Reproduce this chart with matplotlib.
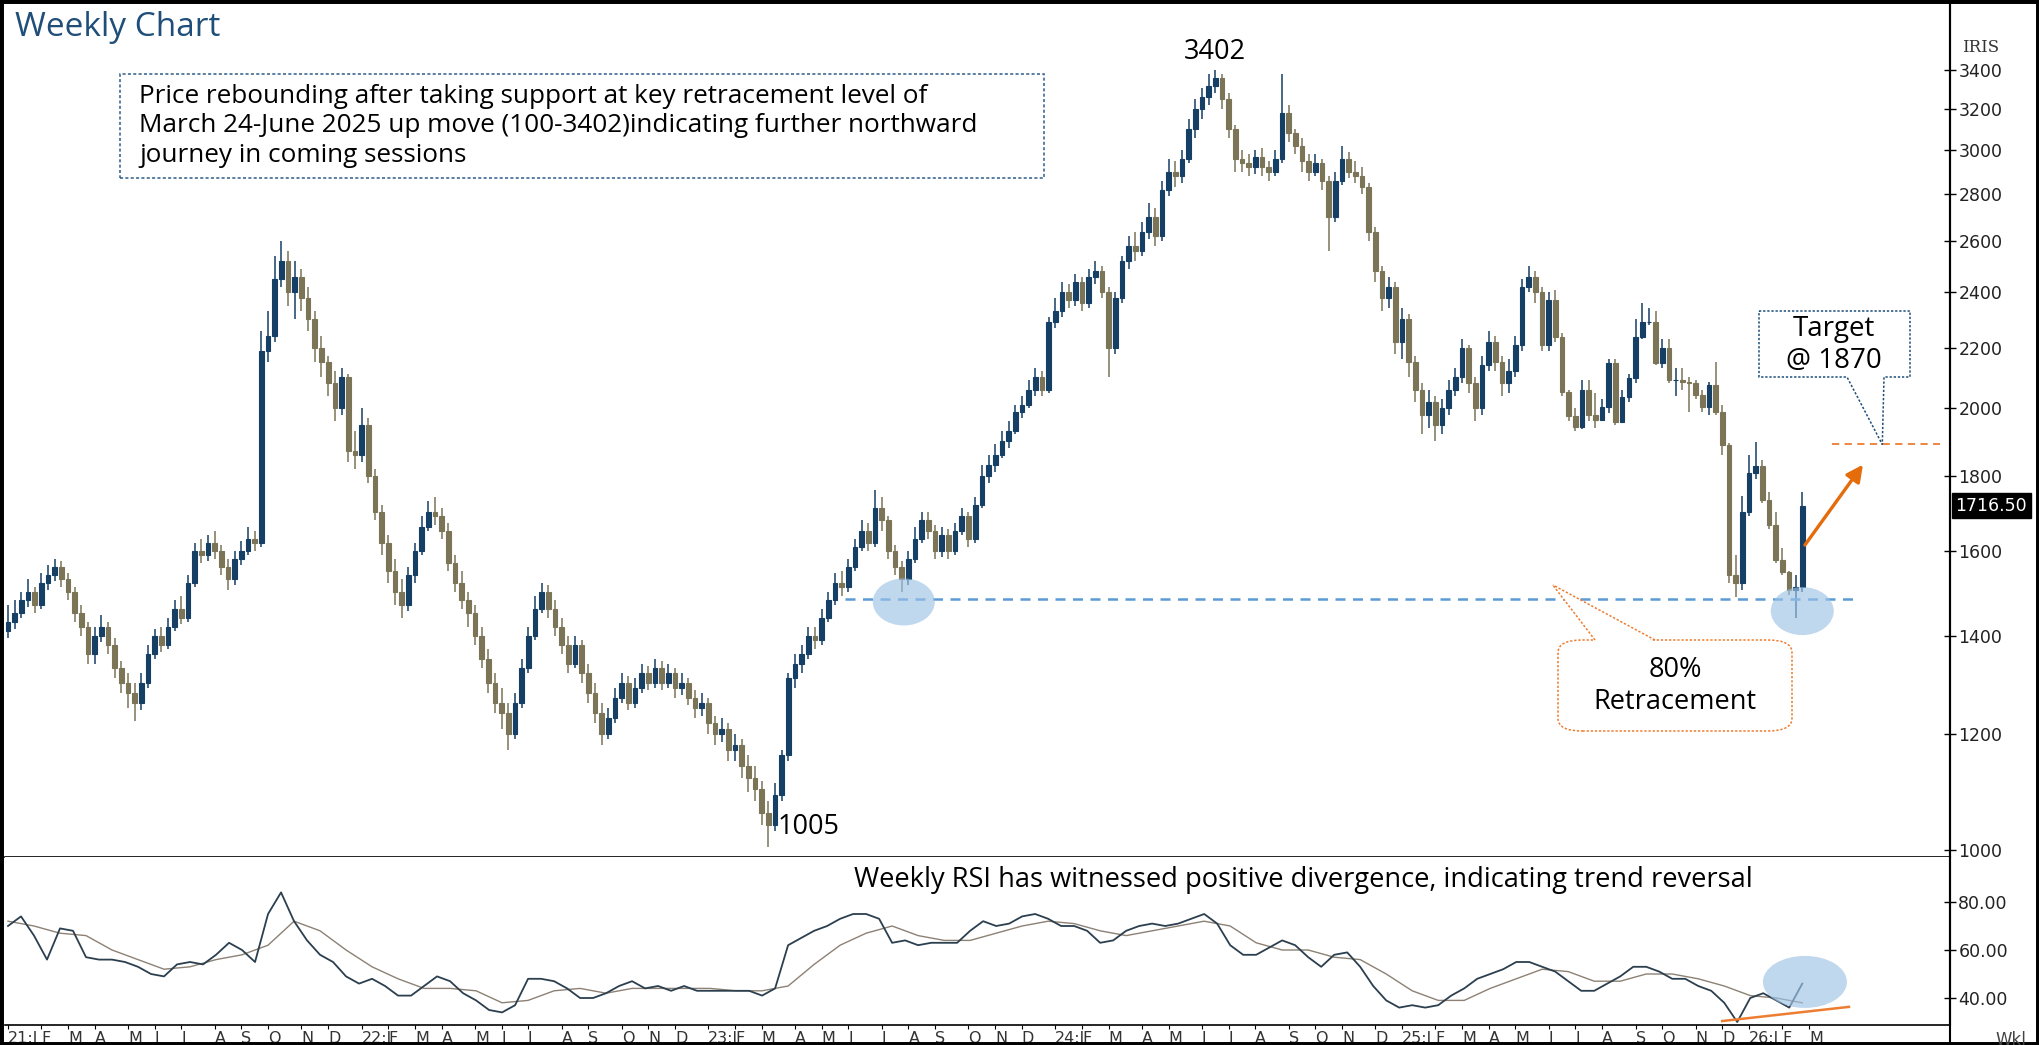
import numpy as np
import pandas as pd
import matplotlib
matplotlib.use("Agg")
import matplotlib.pyplot as plt
from matplotlib.patches import Ellipse, Polygon, Rectangle, FancyBboxPatch
from matplotlib.transforms import ScaledTranslation
from matplotlib.lines import Line2D

# --- Data (weekly candles; open = previous close) ---
close = [
    1430, 1450, 1480, 1500, 1470, 1520, 1540, 1560, 1530, 1500,
    1450, 1420, 1360, 1400, 1420, 1380, 1330, 1300, 1280, 1260,
    1300, 1360, 1400, 1380, 1420, 1460, 1440, 1520, 1600, 1590,
    1620, 1600, 1560, 1530, 1580, 1600, 1630, 1620, 2190, 2240,
    2450, 2520, 2400, 2460, 2380, 2300, 2200, 2150, 2080, 2000,
    2100, 1870, 1860, 1950, 1800, 1700, 1620, 1550, 1500, 1470,
    1540, 1600, 1660, 1700, 1690, 1650, 1570, 1520, 1480, 1450,
    1400, 1350, 1300, 1260, 1240, 1200, 1260, 1330, 1400, 1460,
    1500, 1460, 1420, 1380, 1340, 1380, 1320, 1280, 1240, 1200,
    1230, 1270, 1300, 1260, 1290, 1320, 1300, 1330, 1300, 1320,
    1290, 1300, 1270, 1250, 1260, 1220, 1200, 1210, 1170, 1180,
    1140, 1120, 1100, 1060, 1040, 1090, 1160, 1310, 1340, 1360,
    1400, 1390, 1440, 1480, 1520, 1510, 1560, 1610, 1650, 1620,
    1710, 1680, 1600, 1560, 1530, 1580, 1630, 1680, 1650, 1600,
    1640, 1600, 1650, 1690, 1630, 1720, 1800, 1830, 1860, 1900,
    1930, 1990, 2010, 2060, 2100, 2060, 2290, 2330, 2400, 2370,
    2440, 2360, 2460, 2480, 2400, 2200, 2380, 2520, 2580, 2560,
    2640, 2700, 2620, 2820, 2900, 2880, 2960, 3100, 3200, 3260,
    3320, 3360, 3250, 3100, 2960, 2940, 2920, 2970, 2920, 2900,
    2960, 3180, 3080, 3020, 2950, 2900, 2940, 2860, 2700, 2860,
    2960, 2900, 2880, 2830, 2640, 2480, 2380, 2420, 2220, 2300,
    2150, 2060, 1980, 2020, 1950, 2000, 2060, 2100, 2200, 2080,
    2000, 2140, 2220, 2150, 2080, 2120, 2210, 2420, 2460, 2400,
    2209, 2371, 2238, 2053, 1975, 1944, 2059, 1980, 1964, 2006,
    2147, 1959, 2037, 2097, 2238, 2292, 2292, 2147, 2198, 2091,
    2091, 2086, 2080, 2043, 2006, 2075, 1990, 1889, 1540, 1520,
    1701, 1806, 1826, 1732, 1666, 1577, 1548, 1504, 1510, 1716.5,
]
high = [
    1470, 1480, 1500, 1530, 1510, 1545, 1565, 1580, 1575, 1545,
    1510, 1470, 1430, 1420, 1445, 1430, 1395, 1345, 1320, 1300,
    1320, 1380, 1415, 1420, 1440, 1480, 1490, 1540, 1620, 1630,
    1640, 1650, 1615, 1580, 1600, 1625, 1660, 1650, 2260, 2330,
    2540, 2600, 2560, 2520, 2490, 2420, 2330, 2240, 2170, 2120,
    2130, 2110, 1930, 2000, 1970, 1820, 1720, 1640, 1580, 1530,
    1560, 1620, 1690, 1730, 1740, 1710, 1670, 1590, 1550, 1500,
    1470, 1420, 1370, 1320, 1290, 1260, 1280, 1350, 1420, 1490,
    1520, 1515, 1480, 1440, 1400, 1400, 1390, 1340, 1300, 1260,
    1250, 1290, 1320, 1315, 1310, 1340, 1335, 1350, 1345, 1340,
    1330, 1320, 1310, 1285, 1280, 1270, 1235, 1230, 1220, 1200,
    1190, 1160, 1140, 1115, 1080, 1110, 1170, 1320, 1360, 1380,
    1420, 1420, 1460, 1500, 1545, 1550, 1580, 1630, 1680, 1670,
    1760, 1740, 1690, 1615, 1575, 1600, 1660, 1700, 1700, 1665,
    1660, 1655, 1670, 1710, 1700, 1740, 1830, 1860, 1890, 1930,
    1960, 2010, 2040, 2090, 2130, 2120, 2310, 2380, 2440, 2430,
    2470, 2460, 2490, 2520, 2500, 2420, 2400, 2540, 2620, 2640,
    2680, 2760, 2740, 2860, 2960, 2950, 3000, 3150, 3250, 3310,
    3380, 3402, 3380, 3280, 3120, 3000, 2980, 3000, 3010, 2950,
    3000, 3380, 3220, 3100, 3060, 2980, 2980, 2960, 2880, 2900,
    3020, 2990, 2950, 2920, 2850, 2660, 2500, 2460, 2440, 2340,
    2320, 2170, 2080, 2060, 2040, 2030, 2090, 2130, 2230, 2210,
    2100, 2170, 2260, 2240, 2170, 2160, 2240, 2450, 2500, 2480,
    2420, 2400, 2408, 2250, 2060, 2000, 2090, 2090, 2050, 2030,
    2160, 2160, 2060, 2110, 2300, 2360, 2340, 2330, 2230, 2230,
    2130, 2130, 2100, 2090, 2060, 2085, 2150, 2010, 1894, 1590,
    1743, 1859, 1896, 1845, 1753, 1700, 1606, 1550, 1540, 1755,
]
low = [
    1395, 1415, 1440, 1465, 1450, 1460, 1505, 1525, 1510, 1480,
    1430, 1400, 1340, 1340, 1385, 1360, 1310, 1280, 1250, 1225,
    1245, 1290, 1350, 1365, 1370, 1410, 1425, 1430, 1510, 1570,
    1575, 1580, 1540, 1505, 1515, 1565, 1590, 1600, 1610, 2150,
    2220, 2420, 2350, 2300, 2330, 2260, 2150, 2100, 2040, 1960,
    1980, 1840, 1820, 1840, 1780, 1680, 1590, 1520, 1470, 1440,
    1455, 1520, 1590, 1650, 1665, 1630, 1550, 1500, 1460, 1420,
    1380, 1330, 1280, 1240, 1210, 1170, 1190, 1250, 1320, 1390,
    1450, 1440, 1400, 1360, 1320, 1330, 1300, 1260, 1220, 1180,
    1190, 1220, 1260, 1245, 1250, 1280, 1285, 1290, 1285, 1290,
    1270, 1275, 1255, 1230, 1235, 1200, 1180, 1185, 1150, 1150,
    1120, 1095, 1080, 1040, 1005, 1030, 1080, 1150, 1290, 1320,
    1350, 1370, 1380, 1430, 1470, 1490, 1500, 1550, 1600, 1600,
    1610, 1650, 1580, 1540, 1500, 1515, 1570, 1620, 1630, 1580,
    1585, 1580, 1590, 1640, 1610, 1620, 1710, 1780, 1810, 1850,
    1880, 1920, 1970, 2000, 2040, 2040, 2050, 2270, 2310, 2340,
    2350, 2330, 2340, 2430, 2380, 2100, 2180, 2360, 2490, 2520,
    2540, 2610, 2580, 2600, 2790, 2830, 2850, 2940, 3060, 3150,
    3220, 3280, 3200, 3060, 2900, 2900, 2880, 2890, 2880, 2860,
    2880, 2940, 3040, 2980, 2900, 2860, 2880, 2820, 2560, 2680,
    2840, 2870, 2850, 2800, 2600, 2440, 2330, 2340, 2180, 2160,
    2100, 2020, 1920, 1940, 1900, 1920, 1980, 2040, 2080, 2050,
    1960, 1980, 2120, 2120, 2040, 2050, 2100, 2190, 2400, 2360,
    2190, 2190, 2220, 2040, 1960, 1930, 1935, 1960, 1940, 1960,
    1985, 1950, 1955, 2020, 2080, 2230, 2280, 2140, 2130, 2080,
    2040, 2060, 1990, 2030, 1990, 1980, 1980, 1860, 1520, 1488,
    1505, 1690, 1790, 1725, 1655, 1570, 1540, 1492, 1439, 1500,
]
first_open = 1410

rsi = [
    70, 74, 66, 56, 69, 68, 57, 56, 56, 55, 53, 50, 49, 54, 55, 54, 58, 63, 60, 55,
    75, 84, 72, 64, 58, 55, 49, 46, 48, 45, 41, 41, 45, 49, 47, 42, 39, 35, 34, 37,
    48, 48, 47, 44, 40, 40, 42, 45, 47, 44, 45, 43, 45, 43, 43, 43, 43, 43, 41, 44,
    62, 65, 68, 70, 73, 75, 75, 73, 63, 64, 62, 63, 63, 63, 68, 72, 70, 71, 74, 75,
    73, 70, 70, 68, 63, 64, 68, 70, 71, 70, 71, 73, 75, 71, 62, 58, 58, 61, 64, 62,
    57, 53, 58, 59, 53, 45, 39, 36, 37, 36, 37, 41, 44, 48, 50, 52, 55, 55, 53, 51,
    47, 43, 43, 46, 49, 53, 53, 51, 48, 48, 45, 43, 38, 30, 40, 42, 39, 36, 46,
]
rsi_signal = [
    72, 70, 67, 66, 60, 56, 52, 53, 56, 58, 62, 72, 68, 60, 53, 48, 44, 44, 43, 38,
    39, 43, 44, 42, 44, 44, 44, 44, 43, 43, 45, 54, 62, 67, 70, 66, 64, 64, 67, 70,
    72, 71, 68, 66, 68, 70, 72, 70, 63, 60, 60, 57, 56, 50, 43, 39, 39, 44, 48, 52,
    51, 47, 47, 50, 50, 48, 45, 41, 40, 38,
]

price_ticks = [1000, 1200, 1400, 1600, 1800, 2000, 2200, 2400, 2600, 2800, 3000, 3200, 3400]
rsi_ticks = [40, 60, 80]
support_level = 1484
target_level = 1890
last_price = 1716.5
swing_high, swing_low = 3402, 1005

# --- Figure layout (pixel based) ---
W, H = 2039, 1045
fig = plt.figure(figsize=(W / 100, H / 100), dpi=100)
fx = lambda x: x / W
fy = lambda y: 1 - y / H

ax = fig.add_axes([fx(5), fy(857), fx(1950) - fx(5), fy(5) - fy(857)])
ax2 = fig.add_axes([fx(5), fy(1025), fx(1950) - fx(5), fy(857) - fy(1025)])

n = len(close)
x = np.arange(n)
opens = [first_open] + close[:-1]
up_col, dn_col = "#163f66", "#7b7457"
cols = [up_col if c >= o else dn_col for o, c in zip(opens, close)]
lo_body = np.minimum(opens, close)
hi_body = np.maximum(opens, close)
ax.vlines(x, low, high, colors=cols, lw=1.1)
ax.bar(x, hi_body - lo_body, bottom=lo_body, width=0.7, color=cols,
       edgecolor=cols, linewidth=0.8, zorder=2)

ax.set_yscale("log")
ax.set_xlim(-0.45, 291.15)
ax.set_ylim(989, 3768)
ax.set_yticks(price_ticks)
ax.set_yticklabels([str(t) for t in price_ticks])
ax.yaxis.set_minor_locator(matplotlib.ticker.NullLocator())
ax.yaxis.tick_right()
ax.tick_params(axis="y", direction="inout", length=8, width=1, labelsize=12.5,
               labelcolor="#222222", pad=2)
ax.set_xticks([])
for s in ["left", "top"]:
    ax.spines[s].set_visible(False)
ax.spines["right"].set_linewidth(1.5)
ax.spines["bottom"].set_linewidth(1.2)

# RSI panel
xr = np.linspace(0, n - 1, len(rsi))
xs = np.linspace(0, n - 1, len(rsi_signal))
ax2.plot(xs, rsi_signal, color="#8c8174", lw=1.0)
ax2.plot(xr, rsi, color="#2b3f4f", lw=1.3)
ax2.set_xlim(-0.45, 291.15)
ax2.set_ylim(28.75, 98.75)
ax2.set_yticks(rsi_ticks)
ax2.set_yticklabels([f"{t:.2f}" for t in rsi_ticks])
ax2.yaxis.tick_right()
ax2.tick_params(axis="y", direction="inout", length=8, width=1, labelsize=12.5,
                labelcolor="#222222", pad=2)
for s in ["left", "top"]:
    ax2.spines[s].set_visible(False)
ax2.spines["right"].set_linewidth(1.5)
ax2.spines["bottom"].set_linewidth(1.2)

# month labels
dates = pd.date_range("2021-01-01", periods=n + 3, freq="7D")
pos, labs = [0], ["21:J"]
for i in range(1, len(dates)):
    if dates[i].month != dates[i - 1].month:
        m = "JFMAMJJASOND"[dates[i].month - 1]
        pos.append(i)
        labs.append(f"{dates[i].year % 100}:J" if dates[i].month == 1 else m)
ax2.set_xticks(pos)
ax2.set_xticklabels(labs)
ax2.tick_params(axis="x", direction="out", length=3, labelsize=11.5,
                labelcolor="#333333", pad=1)
for t in ax2.get_xticklabels():
    t.set_ha("left")

# --- Annotations ---
font = "Open Sans"
fig.text(fx(15), fy(28), "Weekly Chart", fontsize=24, color="#1f4e79",
         family=font, va="center")
fig.add_artist(Rectangle((fx(120), fy(178)), fx(1044) - fx(120), fy(74) - fy(178),
                         transform=fig.transFigure, fill=False, ec="#2e5c8a",
                         ls=(0, (2, 1.5)), lw=1.1))
fig.text(fx(139), fy(126),
         "Price rebounding after taking support at key retracement level of\n"
         "March 24-June 2025 up move (100-3402)indicating further northward\n"
         "journey in coming sessions",
         fontsize=18.8, family=font, va="center", ha="left", linespacing=1.24)

ax.annotate(f"{swing_high}", xy=(181, swing_high), xytext=(0, 13),
            textcoords="offset points", ha="center", va="center",
            fontsize=19.5, family=font)
ax.annotate(f"{swing_low}", xy=(114, swing_low), xytext=(29, 14),
            textcoords="offset points", ha="center", va="center",
            fontsize=19.5, family=font)

ax.hlines(support_level, 125.5, 277.7, colors="#5b9bd5", linestyles=(0, (4, 3)), lw=1.8)
ax.hlines(target_level, 273.5, 289.7, colors="#ed7d31", linestyles=(0, (4, 3)), lw=1.3)


def ellipse(axis, cx, cy, w, h):
    tr = fig.dpi_scale_trans + ScaledTranslation(cx, cy, axis.transData)
    axis.add_artist(Ellipse((0, 0), w / 100, h / 100, transform=tr,
                            color="#9dc3e6", alpha=0.65, lw=0, zorder=3))


ellipse(ax, 134.3, 1476, 62, 47)
ellipse(ax, 269, 1455, 63, 48)
ellipse(ax2, 269.4, 46.7, 84, 52)

ax.annotate("", xy=(278.1, 1831), xytext=(269.4, 1614),
            arrowprops=dict(arrowstyle="-|>", color="#e46c0a", lw=2.4,
                            mutation_scale=25, shrinkA=0, shrinkB=0))

to_fig = lambda axis, px, py: fig.transFigure.inverted().transform(
    axis.transData.transform((px, py)))

# target callout
tip = to_fig(ax, 281, target_level)
L, R, T, B = fx(1759), fx(1910), fy(311), fy(377)
fig.add_artist(Polygon([(L, T), (R, T), (R, B), (fx(1884), B), tuple(tip),
                        (fx(1847), B), (L, B)], closed=True,
                       transform=fig.transFigure, fc="white", ec="#1f4e79",
                       ls=(0, (1.5, 1.2)), lw=1.1, zorder=5))
fig.text(fx(1834), fy(345), "Target\n@ 1870", ha="center", va="center",
         fontsize=20, family=font, linespacing=1.18, zorder=6)

# retracement callout
fig.add_artist(FancyBboxPatch((fx(1558), fy(731)), fx(1792) - fx(1558),
                              fy(640) - fy(731),
                              boxstyle="round,pad=0,rounding_size=0.012",
                              transform=fig.transFigure, fc="white", ec="#ed7d31",
                              ls=(0, (1.5, 1.2)), lw=1.1, zorder=5))
tip2 = to_fig(ax, 231.6, 1516)
fig.add_artist(Polygon([(fx(1595), fy(642)), tuple(tip2), (fx(1655), fy(642))],
                       closed=True, transform=fig.transFigure, fc="white", lw=0,
                       zorder=5))
for bx in (1595, 1655):
    fig.add_artist(Line2D([fx(bx), tip2[0]], [fy(640), tip2[1]], color="#ed7d31",
                          ls=(0, (1.5, 1.2)), lw=1.1, zorder=6))
fig.text(fx(1675), fy(686), "80%\nRetracement", ha="center", va="center",
         fontsize=19.5, family=font, linespacing=1.2, zorder=6)

fig.text(fx(854), fy(880),
         "Weekly RSI has witnessed positive divergence, indicating trend reversal",
         fontsize=19.6, family=font, va="center")
ax2.plot([257, 276], [30.4, 36.3], color="#ed7d31", lw=1.8)

# right axis extras
ax.annotate(f"{last_price:.2f}", xy=(1.0, last_price), xycoords=("axes fraction", "data"),
            xytext=(4, 0), textcoords="offset points", va="center", ha="left",
            fontsize=12.5, color="white",
            bbox=dict(boxstyle="square,pad=0.2", fc="black", ec="black"))
fig.text(fx(1962), fy(48), "IRIS", fontsize=12, family="DejaVu Serif",
         color="#333333", va="center")
fig.text(fx(1995), fy(1040), "Wkl", fontsize=12, color="#444444", va="center")

fig.add_artist(Line2D([fx(1950)] * 2, [0, 1], color="black", lw=1.5))
fig.add_artist(Rectangle((0, 0), 1, 1, transform=fig.transFigure, fill=False,
                         ec="black", lw=5))

fig.savefig("out.png", dpi=100)
